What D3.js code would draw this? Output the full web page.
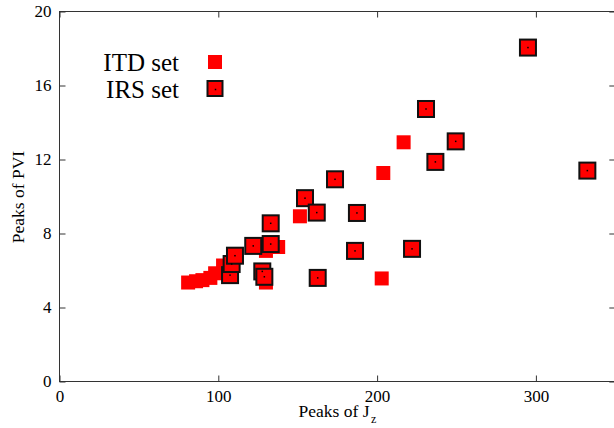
<!DOCTYPE html>
<html>
<head>
<meta charset="utf-8">
<script src="https://cdn.jsdelivr.net/npm/d3@7"></script>
<style>
  html, body { margin: 0; padding: 0; background: #fff; }
  svg { display: block; }
  svg text { font-family: "Liberation Serif", "Times New Roman", Times, serif !important; fill: #000; }
</style>
</head>
<body>
<svg id="chart" width="614" height="428"></svg>
<script>
// ---- data ----
const itdJz  = [81, 86, 90, 95, 98, 103, 130, 137.7, 130, 151.4, 203.9, 216.7, 202.9];
const itdPvi = [5.35, 5.42, 5.48, 5.6, 5.85, 6.27, 7.06, 7.27, 5.35, 8.93, 11.27, 12.93, 5.57];

const irsJz  = [107.4, 108.4, 110.5, 122, 133, 133, 127.7, 129, 154.6, 162, 162.6, 173.5, 186.1, 187.3, 222, 230.8, 236.7, 249.5, 295, 332.4];
const irsPvi = [5.75, 6.35, 6.8, 7.33, 7.43, 8.55, 5.95, 5.66, 9.91, 9.13, 5.6, 10.93, 7.06, 9.11, 7.17, 14.73, 11.87, 12.98, 18.05, 11.4];

const xTicks = [0, 100, 200, 300];
const yTicks = [0, 4, 8, 12, 16, 20];
const seriesNames = ["ITD set", "IRS set"];

// ---- layout ----
const svg = d3.select("#chart");
const mLeft = 59.5, mTop = 11.5, mBottom = 381.5;
const x = d3.scaleLinear().domain([0, 350]).range([mLeft, mLeft + 350 * 1.588]);
const y = d3.scaleLinear().domain([0, 20]).range([mBottom, mTop]);
const mRight = x(350);
const axisColor = "#333";
const tickLen = 6;
const serif = "'Liberation Serif', 'Times New Roman', serif";

svg.append("rect").attr("width", 614).attr("height", 428).attr("fill", "#fff");

// frame
svg.append("rect")
  .attr("x", mLeft).attr("y", mTop)
  .attr("width", mRight - mLeft).attr("height", mBottom - mTop)
  .attr("fill", "none").attr("stroke", axisColor).attr("stroke-width", 1);

// axes (inward ticks) via d3 axes
const gB = svg.append("g").attr("transform", `translate(0,${mBottom})`)
  .call(d3.axisBottom(x).tickValues(xTicks).tickSizeInner(-tickLen).tickSizeOuter(0).tickPadding(8.5));
const gT = svg.append("g").attr("transform", `translate(0,${mTop})`)
  .call(d3.axisTop(x).tickValues(xTicks).tickSizeInner(-tickLen).tickSizeOuter(0).tickFormat(""));
const gL = svg.append("g").attr("transform", `translate(${mLeft},0)`)
  .call(d3.axisLeft(y).tickValues(yTicks).tickSizeInner(-tickLen).tickSizeOuter(0).tickPadding(8));
const gR = svg.append("g").attr("transform", `translate(${mRight},0)`)
  .call(d3.axisRight(y).tickValues(yTicks).tickSizeInner(-tickLen).tickSizeOuter(0).tickFormat(""));

[gB, gT, gL, gR].forEach(g => {
  g.attr("font-family", serif);
  g.select(".domain").remove();
  g.selectAll(".tick line").attr("stroke", axisColor).attr("stroke-width", 1);
  g.selectAll("text").attr("font-family", serif).attr("font-size", 17).attr("fill", "#000");
});
gL.selectAll("text").attr("dy", "0.32em");

// axis labels
const xl = svg.append("text")
  .attr("x", (mLeft + mRight) / 2).attr("y", 417)
  .attr("text-anchor", "middle").attr("font-family", serif).attr("font-size", 17.5);
xl.append("tspan").text("Peaks of J");
xl.append("tspan").attr("font-size", 12).attr("dx", 1.5).attr("dy", 5.5).text("z");

svg.append("text")
  .attr("transform", `translate(24,197) rotate(-90)`)
  .attr("text-anchor", "middle").attr("font-family", serif).attr("font-size", 17.5)
  .text("Peaks of PVI");

// ---- marks ----
const red = "#ff0000";
const itd = itdJz.map((v, i) => ({ jz: v, pvi: itdPvi[i] }));
const irs = irsJz.map((v, i) => ({ jz: v, pvi: irsPvi[i] }));

const sItd = 14;
svg.append("g").selectAll("rect").data(itd).join("rect")
  .attr("x", d => x(d.jz) - sItd / 2).attr("y", d => y(d.pvi) - sItd / 2)
  .attr("width", sItd).attr("height", sItd).attr("fill", red);

const sIrs = 16;
const gIrs = svg.append("g");
gIrs.selectAll("rect.box").data(irs).join("rect").attr("class", "box")
  .attr("x", d => x(d.jz) - sIrs / 2).attr("y", d => y(d.pvi) - sIrs / 2)
  .attr("width", sIrs).attr("height", sIrs)
  .attr("fill", red).attr("stroke", "#111").attr("stroke-width", 2);
gIrs.selectAll("rect.dot").data(irs).join("rect").attr("class", "dot")
  .attr("x", d => x(d.jz) - 0.75).attr("y", d => y(d.pvi) - 0.75)
  .attr("width", 1.5).attr("height", 1.5).attr("fill", "#000");

// ---- legend ----
const legY = [62, 89];
const leg = svg.append("g");
leg.selectAll("text").data(seriesNames).join("text")
  .attr("x", 179).attr("y", (d, i) => legY[i]).attr("dy", "0.35em")
  .attr("text-anchor", "end").attr("font-family", serif).attr("font-size", 25).text(d => d);
leg.append("rect").attr("x", 215 - sItd / 2).attr("y", legY[0] - sItd / 2)
  .attr("width", sItd).attr("height", sItd).attr("fill", red);
leg.append("rect").attr("x", 215 - sIrs / 2 + 0.5).attr("y", legY[1] - sIrs / 2)
  .attr("width", sIrs - 1).attr("height", sIrs - 1)
  .attr("fill", red).attr("stroke", "#111").attr("stroke-width", 2);
leg.append("rect").attr("x", 215 - 0.25).attr("y", legY[1] - 0.25)
  .attr("width", 1.5).attr("height", 1.5).attr("fill", "#000");
</script>
</body>
</html>
